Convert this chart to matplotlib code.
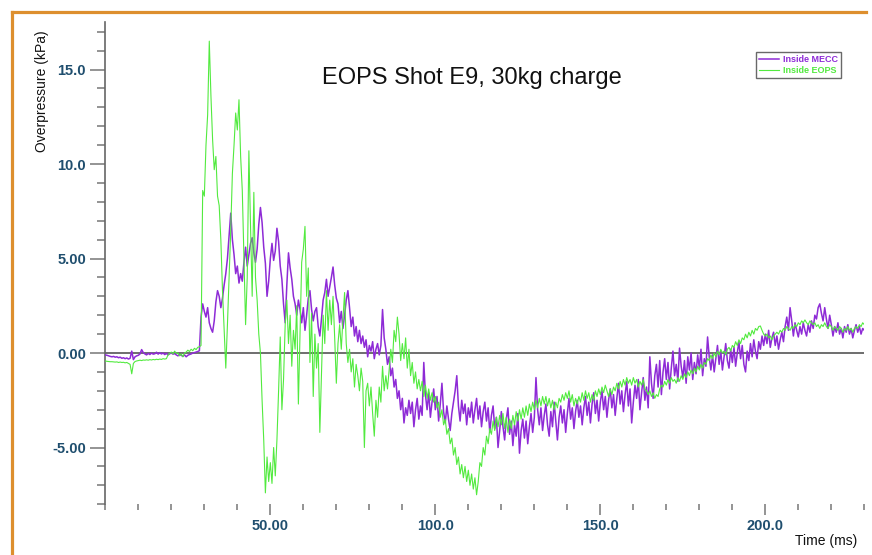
# EOPS shot E9 - overpressure traces, inside MECC vs inside EOPS
import numpy as np
import matplotlib
matplotlib.use("Agg")
import matplotlib.pyplot as plt
from matplotlib.lines import Line2D
from matplotlib.ticker import MultipleLocator

# sampling step of the traces (ms)
SAMPLE_MS = 0.5

# Inside MECC (kPa), one row = 5 ms
mecc_kpa = [
    -0.10, -0.12, -0.15, -0.18, -0.20, -0.18, -0.22, -0.20, -0.25, -0.22,
    -0.28, -0.25, -0.30, -0.26, -0.32, -0.28, 0.10, -0.35, -0.20, -0.15,
    -0.12, -0.05, 0.18, 0.02, -0.05, -0.10, -0.02, -0.08, 0.00, -0.06,
    -0.04, 0.04, -0.06, 0.02, -0.05, 0.00, -0.08, -0.02, -0.10, -0.04,
    0.00, -0.06, -0.03, -0.10, -0.15, -0.08, -0.12, -0.18, -0.10, -0.20,
    -0.12, -0.08, -0.05, 0.00, 0.02, 0.05, 0.08, 0.12, 1.90, 2.60,
    2.20, 1.90, 2.40, 1.60, 1.30, 1.10, 1.70, 2.70, 3.30, 3.00,
    2.40, 2.90, 3.60, 4.20, 5.00, 6.20, 7.40, 6.00, 5.20, 4.20,
    4.60, 3.70, 4.20, 3.80, 4.80, 5.60, 4.60, 5.20, 5.80, 6.10,
    5.30, 4.80, 5.50, 6.80, 7.70, 6.90, 5.60, 4.75, 3.00, 3.80,
    5.00, 5.80, 4.90, 5.40, 6.60, 5.90, 4.60, 3.90, 2.60, 1.60,
    3.60, 5.30, 4.50, 3.90, 3.00, 2.60, 2.00, 2.80, 2.30, 1.60,
    2.40, 1.20, 2.00, 2.90, 3.30, 2.30, 1.70, 2.20, 2.40, 1.40,
    0.90, 1.80, 2.80, 3.20, 3.90, 3.00, 3.50, 4.00, 4.55, 3.60,
    2.90, 2.60, 1.60, 2.20, 1.30, 2.00, 2.80, 3.30, 2.40, 1.40,
    1.90, 0.90, 1.40, 0.60, 1.20, 0.50, 0.90, 0.30, 0.70, -0.20,
    0.40, 0.10, 0.60, -0.30, 0.20, 0.50, -0.10, 0.40, 2.30, 0.80,
    0.20, -0.60, -0.20, -1.20, -0.80, -1.80, -1.40, -2.40, -2.00, -3.00,
    -2.40, -3.70, -2.90, -3.30, -2.50, -3.20, -2.60, -3.90, -3.00, -2.40,
    -3.50, -2.80, -3.30, -0.50, -2.20, -3.00, -2.10, -3.40, -2.60, -1.90,
    -3.00, -2.30, -3.60, -2.70, -1.60, -3.10, -3.70, -2.80, -3.50, -4.10,
    -3.20, -2.60, -2.00, -1.20, -2.80, -3.60, -2.50, -3.20, -2.70, -3.80,
    -2.90, -3.40, -2.60, -3.70, -3.00, -2.40, -3.50, -2.80, -3.90, -3.10,
    -2.60, -3.60, -2.90, -4.20, -3.30, -2.80, -4.00, -3.40, -5.00, -4.10,
    -3.10, -3.90, -4.60, -3.50, -2.90, -4.30, -3.60, -4.90, -3.80, -4.40,
    -3.20, -5.30, -4.10, -3.50, -4.50, -3.60, -4.80, -3.90, -3.20, -4.20,
    -3.40, -1.30, -3.00, -3.80, -2.90, -4.10, -3.30, -2.70, -3.80, -4.40,
    -3.10, -3.90, -2.60, -3.60, -4.60, -3.40, -2.80, -3.70, -3.00, -4.20,
    -3.20, -2.40, -3.50, -2.90, -4.00, -3.10, -2.50, -3.40, -2.80, -3.80,
    -2.90, -2.30, -3.30, -2.60, -3.70, -2.70, -2.10, -3.20, -2.50, -3.60,
    -2.60, -2.00, -3.00, -2.30, -3.40, -2.50, -1.90, -2.90, -2.20, -3.30,
    -2.40, -1.60, -2.70, -2.00, -3.10, -2.20, -1.50, -2.80, -1.90, -3.70,
    -2.60, -1.70, -2.40, -1.40, -3.00, -2.10, -1.30, -2.50, -1.80, -2.90,
    -0.20, -1.60, -2.40, -1.20, -0.60, -1.80, -0.40, -2.20, -1.00, -0.30,
    -1.40, -0.50, -1.90, -0.80, 0.10, -1.20, -0.60, -1.50, 0.26, -0.70,
    -1.30, -0.40, -1.60, -0.20, -0.90, 0.00, -1.40, -0.50, -1.10, -0.10,
    -0.80, 0.20, -1.20, -0.30, -0.70, 0.85, -0.20, -0.90, -0.10, -1.00,
    -0.30, 0.40, -0.60, 0.10, -0.90, -0.20, 0.50, -0.40, -0.80, 0.20,
    -0.50, 0.30, -0.70, 0.00, 0.60, -0.30, 0.40, -0.60, -1.00, 0.10,
    -0.40, 0.50, -0.20, 0.70, 0.10, -0.30, 0.60, 0.20, 0.90, 0.40,
    1.00, 0.50, 1.20, 0.30, 0.80, 1.10, 0.40, 0.90, 0.20, 0.70,
    1.10, 0.60, 1.40, 1.90, 1.20, 2.40, 1.70, 0.90, 1.60, 1.20,
    0.85, 1.40, 1.00, 1.60, 1.20, 0.90, 1.50, 1.10, 1.70, 1.30,
    2.00, 1.80, 2.40, 2.60, 2.10, 1.70, 2.40, 1.80, 1.30, 2.00,
    1.50, 0.90, 1.40, 1.10, 1.60, 1.00, 1.30, 0.80, 1.40, 1.10,
    1.50, 1.00, 1.30, 0.80, 1.20, 1.50, 1.10, 1.40, 1.00, 1.30,
    1.20,
]

# Inside EOPS (kPa), one row = 5 ms
eops_kpa = [
    -0.42, -0.44, -0.45, -0.46, -0.46, -0.47, -0.48, -0.47, -0.50, -0.48,
    -0.50, -0.49, -0.52, -0.50, -0.55, -0.60, -1.10, -0.55, -0.45, -0.42,
    -0.40, -0.38, -0.40, -0.37, -0.38, -0.36, -0.38, -0.35, -0.37, -0.34,
    -0.36, -0.33, -0.35, -0.32, -0.34, -0.30, -0.32, -0.30, -0.10, -0.02,
    0.05, -0.05, 0.10, -0.02, 0.00, -0.15, -0.05, -0.20, 0.00, 0.05,
    0.15, 0.08, 0.20, 0.12, 0.25, 0.18, 0.30, 0.33, 0.40, 8.60,
    8.30, 11.00, 12.60, 16.50, 13.60, 11.30, 9.70, 10.40, 8.30, 7.80,
    6.00, 3.30, 1.20, -0.80, 1.50, 4.00, 6.50, 9.50, 11.00, 12.70,
    11.80, 13.40, 10.40, 8.60, 5.00, 1.50, 4.00, 10.70, 6.70, 3.00,
    8.50, 4.00, 2.80, 1.00, 0.00, -2.50, -4.60, -7.40, -5.50, -6.80,
    -5.80, -6.90, -5.00, -6.50, -4.60, -2.00, 0.85, -3.00, -1.40, 1.50,
    2.80, 0.50, 2.00, -0.70, 1.20, 0.20, 2.50, -2.70, 1.00, 4.80,
    5.50, 6.70, 3.00, 4.50, -0.50, 2.10, -2.30, 1.00, -0.80, 0.50,
    -4.20, -1.00, 2.00, 0.50, 3.30, 1.20, 2.80, 1.50, 3.00, 0.80,
    -1.60, 0.50, 1.50, 0.20, 1.80, 3.20, 0.50, -0.50, 0.20, -1.00,
    -0.30, -1.80, -0.60, -1.20, -2.00, -0.80, -1.50, -5.00, -2.00, -1.60,
    -2.80, -1.80, -3.20, -4.40, -2.50, -3.40, -1.80, -2.60, -0.70, -2.00,
    -1.20, -1.90, -0.90, 0.20, -0.50, 1.20, 0.60, 1.90, 1.00, -0.40,
    0.50, -0.30, 0.80, -0.80, 0.20, -1.20, -0.50, -1.60, -1.00, -1.90,
    -1.40, -2.00, -1.50, -2.30, -1.70, -2.40, -1.90, -2.50, -2.10, -2.60,
    -2.30, -2.90, -2.60, -3.40, -3.00, -3.80, -3.50, -4.30, -4.00, -4.80,
    -4.50, -5.40, -5.00, -5.90, -5.50, -6.40, -5.90, -6.60, -6.00, -6.80,
    -6.20, -7.00, -6.40, -7.20, -6.60, -7.50, -6.80, -5.80, -6.00, -5.00,
    -5.40, -4.40, -4.80, -4.00, -4.30, -3.60, -4.10, -3.40, -3.90, -3.30,
    -3.80, -3.20, -4.00, -3.40, -4.20, -3.50, -4.00, -3.30, -3.80, -3.10,
    -3.60, -3.00, -3.50, -2.90, -3.40, -2.80, -3.30, -2.70, -3.10, -2.60,
    -3.00, -2.50, -2.90, -2.40, -2.80, -2.30, -2.70, -2.30, -2.80, -2.40,
    -2.90, -2.50, -3.00, -2.60, -2.90, -2.40, -2.60, -2.20, -2.50, -2.10,
    -2.40, -2.00, -2.60, -2.20, -2.80, -2.40, -2.70, -2.30, -2.60, -2.10,
    -2.50, -2.00, -2.40, -2.10, -2.60, -2.20, -2.50, -2.00, -2.30, -1.90,
    -2.20, -1.80, -2.10, -1.70, -2.00, -2.30, -1.90, -2.20, -1.80, -2.00,
    -1.60, -1.90, -1.50, -1.80, -1.40, -1.70, -1.30, -1.60, -1.40, -1.70,
    -1.30, -1.60, -1.40, -1.80, -1.50, -1.70, -1.40, -1.90, -2.00, -2.20,
    -2.00, -2.30, -2.10, -2.40, -2.20, -2.30, -1.90, -1.70, -1.80, -1.50,
    -1.70, -1.40, -1.60, -1.30, -1.50, -1.40, -1.60, -1.30, -1.50, -1.20,
    -1.40, -1.10, -1.30, -1.00, -1.20, -0.90, -1.10, -0.80, -1.00, -0.70,
    -0.90, -0.60, -0.80, -0.50, -0.60, -0.30, -0.40, -0.10, -0.30, 0.00,
    -0.20, 0.10, -0.10, 0.20, 0.00, 0.10, -0.10, 0.20, 0.30, 0.10,
    0.40, 0.30, 0.60, 0.40, 0.70, 0.50, 0.80, 0.70, 1.00, 0.80,
    1.10, 0.90, 1.20, 1.00, 1.30, 1.20, 1.40, 1.43, 1.20, 1.00,
    0.90, 1.00, 0.80, 0.90, 0.70, 0.90, 1.00, 1.10, 1.00, 1.20,
    1.10, 1.30, 1.20, 1.40, 1.30, 1.20, 1.40, 1.30, 1.50, 1.40,
    1.60, 1.50, 1.70, 1.60, 1.75, 1.60, 1.50, 1.70, 1.60, 1.50,
    1.60, 1.40, 1.50, 1.30, 1.50, 1.40, 1.60, 1.40, 1.30, 1.50,
    1.40, 1.20, 1.40, 1.30, 1.20, 1.40, 1.30, 1.10, 1.30, 1.20,
    1.40, 1.20, 1.30, 1.10, 1.30, 1.40, 1.30, 1.50, 1.40, 1.60,
    1.50,
]

x_ticks = [50, 100, 150, 200]
x_labels = ["50.00", "100.0", "150.0", "200.0"]
y_ticks = [-5, 0, 5, 10, 15]
y_labels = ["-5.00", "0.00", "5.00", "10.0", "15.0"]

COL_MECC = "#8E2BD6"
COL_EOPS = "#52EA3F"
COL_TICKLBL = "#1F4E6E"
COL_BORDER = "#DD8F2E"

plt.rcParams["font.family"] = ["Liberation Sans", "DejaVu Sans"]

time_ms = np.arange(len(mecc_kpa)) * SAMPLE_MS

fig = plt.figure(figsize=(8.72, 5.55), dpi=100)
ax = fig.add_axes([0.1208, 0.0915, 0.8704, 0.8684])

ax.plot(time_ms, mecc_kpa, color=COL_MECC, linewidth=1.1, label="Inside MECC", zorder=3)
ax.plot(time_ms, eops_kpa, color=COL_EOPS, linewidth=0.8, label="Inside EOPS", zorder=4)
ax.axhline(0, color="#555555", linewidth=1.2, zorder=2)

ax.set_xlim(0, 230)
ax.set_ylim(-8, 17.5)

# axes : only the left spine, ticks below without a bottom line
for side in ["top", "right", "bottom"]:
    ax.spines[side].set_visible(False)
ax.spines["left"].set_color("#666666")
ax.spines["left"].set_linewidth(1.2)

ax.set_xticks(x_ticks, x_labels)
ax.set_yticks(y_ticks, y_labels)
ax.xaxis.set_minor_locator(MultipleLocator(10))
ax.yaxis.set_minor_locator(MultipleLocator(1))

ax.tick_params(axis="y", which="major", length=11, width=1.1, color="#777777", pad=3)
ax.tick_params(axis="y", which="minor", length=6, width=1.1, color="#777777")
ax.tick_params(axis="x", which="major", length=8, width=1.1, color="#777777", pad=3)
ax.tick_params(axis="x", which="minor", length=4.5, width=1.1, color="#777777")
for lbl in ax.get_xticklabels() + ax.get_yticklabels():
    lbl.set_fontweight("bold")
    lbl.set_fontsize(10.5)
    lbl.set_color(COL_TICKLBL)

# textes
fig.text(0.541, 0.859, "EOPS Shot E9, 30kg charge", fontsize=17,
         ha="center", va="center", color="#111111")
fig.text(42 / 872, 0.946, "Overpressure (kPa)", fontsize=10, rotation=90,
         ha="center", va="top", color="#111111")
fig.text(795 / 872, 0.025, "Time (ms)", fontsize=10, ha="left", va="center",
         color="#111111")

# legende
leg = ax.legend(loc="upper left", bbox_to_anchor=(756 / 872, 503 / 555),
                bbox_transform=fig.transFigure, fontsize=6.5, frameon=True,
                fancybox=False, handlelength=2.2, borderpad=0.3,
                labelspacing=0.3, handletextpad=0.5, borderaxespad=0)
leg.get_frame().set_edgecolor("#444444")
leg.get_frame().set_linewidth(1.0)
for txt, col in zip(leg.get_texts(), [COL_MECC, COL_EOPS]):
    txt.set_color(col)
    txt.set_fontweight("bold")

# cadre orange (haut + gauche)
top_y = 1 - 11.5 / 555
left_x = 11.5 / 872
fig.add_artist(Line2D([left_x, 866 / 872], [top_y, top_y], color=COL_BORDER,
                      linewidth=2.3, transform=fig.transFigure))
fig.add_artist(Line2D([left_x, left_x], [top_y, 0], color=COL_BORDER,
                      linewidth=2.3, transform=fig.transFigure))

fig.savefig("out.png", dpi=100)
